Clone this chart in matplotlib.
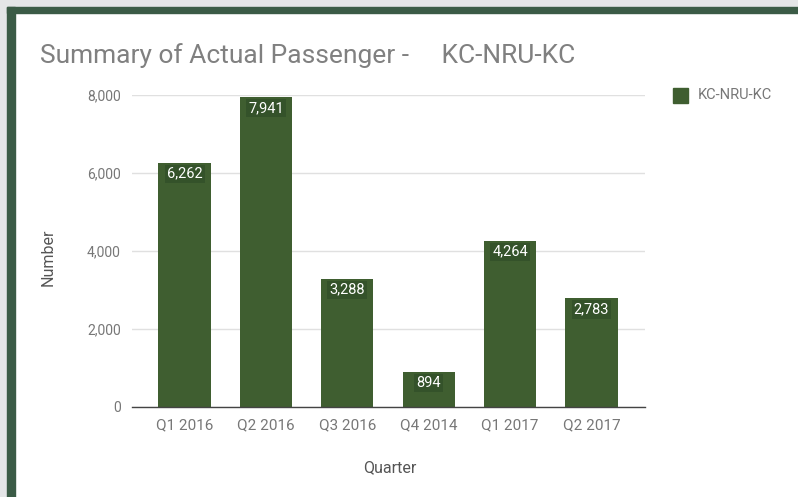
import matplotlib
matplotlib.use("Agg")
import matplotlib.pyplot as plt
from matplotlib.patches import Rectangle

categories = ["Q1 2016", "Q2 2016", "Q3 2016", "Q4 2014", "Q1 2017", "Q2 2017"]
values = [6262, 7941, 3288, 894, 4264, 2783]
yticks = [0, 2000, 4000, 6000, 8000]
series_name = "KC-NRU-KC"

W, H = 798, 497
fig = plt.figure(figsize=(W / 100, H / 100), dpi=100)
fig.patch.set_facecolor("white")
plt.rcParams["font.family"] = ["Roboto", "DejaVu Sans"]

# frame decorations (light gray strip + dark green border)
fig.patches.append(Rectangle((0, 0), 7 / W, 1, transform=fig.transFigure, color="#e4e5e7", zorder=0))
fig.patches.append(Rectangle((0, 1 - 7 / H), 1, 7 / H, transform=fig.transFigure, color="#e4e5e7", zorder=0))
fig.patches.append(Rectangle((7 / W, 0), 8 / W, 1 - 7 / H, transform=fig.transFigure, color="#3b5b46", zorder=0))
fig.patches.append(Rectangle((7 / W, 1 - 13 / H), 1 - 7 / W, 6 / H, transform=fig.transFigure, color="#3b5b46", zorder=0))

left, right = 132, 645
top, bottom = 95, 407
ax = fig.add_axes([left / W, 1 - bottom / H, (right - left) / W, (bottom - top) / H])
ax.set_facecolor("none")

bar_color = "#3f5e30"
x = list(range(len(categories)))
bars = ax.bar(x, values, width=0.64, color=bar_color, zorder=3, label=series_name)

for xi, v in zip(x, values):
    ax.annotate(f"{v:,}", (xi, v), xytext=(0, -11), textcoords="offset pixels",
                ha="center", va="center", color="white", fontsize=10.5, zorder=4,
                bbox=dict(boxstyle="square,pad=0.15", facecolor="#34522a", edgecolor="none"))

ax.set_xlim(-0.645, 5.657)
ax.set_ylim(0, 8000)
ax.set_yticks(yticks)
ax.set_yticklabels([f"{t:,}" for t in yticks])
ax.set_xticks(x)
ax.set_xticklabels(categories)
ax.tick_params(axis="both", length=0, labelcolor="#777777")
ax.tick_params(axis="y", pad=8, labelsize=10)
ax.tick_params(axis="x", pad=8, labelsize=11)
ax.grid(axis="y", color="#e0e0e0", linewidth=1, zorder=0)
for s in ["top", "right", "left"]:
    ax.spines[s].set_visible(False)
ax.spines["bottom"].set_color("#444444")
ax.spines["bottom"].set_linewidth(1)
ax.spines["bottom"].set_zorder(5)

fig.text(390 / W, 1 - 468 / H, "Quarter", fontsize=11.5, color="#555555", ha="center", va="center")
fig.text(48 / W, 1 - 257 / H, "Number", fontsize=11.5, color="#555555", ha="center", va="center",
         rotation=90)

fig.text(40 / W, 1 - 56 / H, "Summary of Actual Passenger -     KC-NRU-KC", fontsize=19,
         color="#808080", ha="left", va="center")

# legend
fig.patches.append(Rectangle((673 / W, 1 - 103 / H), 15 / W, 15 / H, transform=fig.transFigure,
                             color=bar_color, zorder=2))
fig.text(698 / W, 1 - 95 / H, series_name, fontsize=10.5, color="#777777", ha="left", va="center")

fig.savefig("out.png", dpi=100, facecolor=fig.get_facecolor())
